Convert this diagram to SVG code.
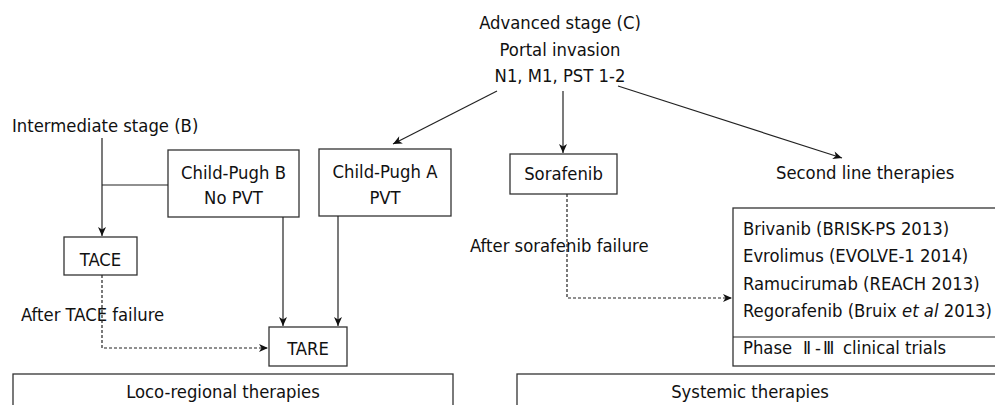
<svg xmlns="http://www.w3.org/2000/svg" width="995" height="405" viewBox="0 0 995 405">
<style>
text{font-family:"DejaVu Sans Condensed","DejaVu Sans","Noto Sans CJK SC",sans-serif;font-stretch:condensed;font-size:18.3px;fill:#111}
.c{text-anchor:middle}
.box{fill:#fff;stroke:#333;stroke-width:1.3}
.ln{fill:none;stroke:#222;stroke-width:1.2}
.dash{fill:none;stroke:#222;stroke-width:1.2;stroke-dasharray:3 2}
</style>
<defs>
<marker id="ah" viewBox="-10 -5 10 10" refX="0" refY="0" markerWidth="10" markerHeight="10" markerUnits="userSpaceOnUse" orient="auto">
<path d="M0,0 L-9,-4 L-6.5,0 L-9,4 Z" fill="#111"/>
</marker>
</defs>
<g id="advanced">
<text class="c" x="560" y="29">Advanced stage (C)</text>
<text class="c" x="560" y="56">Portal invasion</text>
<text class="c" x="560" y="82">N1, M1, PST 1-2</text>
</g>
<g id="intermediate">
<text x="12" y="132">Intermediate stage (B)</text>
</g>
<g id="childB">
<rect class="box" x="168" y="150" width="131" height="67"/>
<text class="c" x="233.5" y="179">Child-Pugh B</text>
<text class="c" x="233.5" y="204">No PVT</text>
</g>
<g id="childA">
<rect class="box" x="319" y="149" width="132" height="67"/>
<text class="c" x="385" y="178">Child-Pugh A</text>
<text class="c" x="385" y="204">PVT</text>
</g>
<g id="sorafenib">
<rect class="box" x="510" y="154" width="107" height="40"/>
<text class="c" x="563.5" y="180">Sorafenib</text>
</g>
<g id="secondline">
<text x="776" y="179">Second line therapies</text>
</g>
<g id="tace">
<rect class="box" x="64" y="237" width="73" height="38"/>
<text class="c" x="100.5" y="266">TACE</text>
</g>
<g id="tare">
<rect class="box" x="269" y="327" width="78" height="39"/>
<text class="c" x="308" y="355">TARE</text>
</g>
<g id="drugs">
<rect class="box" x="733" y="208" width="270" height="158"/>
<line class="ln" x1="733" y1="337" x2="1000" y2="337"/>
<text x="743" y="235">Brivanib (BRISK-PS 2013)</text>
<text x="743" y="262">Evrolimus (EVOLVE-1 2014)</text>
<text x="743" y="290">Ramucirumab (REACH 2013)</text>
<text x="743" y="317">Regorafenib (Bruix <tspan font-style="italic">et al</tspan> 2013)</text>
<text x="743" y="354">Phase <tspan x="803">Ⅱ</tspan><tspan x="815">-</tspan><tspan x="823">Ⅲ</tspan><tspan x="843">clinical trials</tspan></text>
</g>
<g id="loco">
<rect class="box" x="13" y="374" width="440" height="40"/>
<text class="c" x="223" y="398">Loco-regional therapies</text>
</g>
<g id="systemic">
<rect class="box" x="517" y="374" width="490" height="40"/>
<text class="c" x="750" y="398">Systemic therapies</text>
</g>
<g id="labels">
<text x="21" y="321">After TACE failure</text>
<text x="470" y="252">After sorafenib failure</text>
</g>
<g id="connectors">
<line class="ln" x1="497" y1="91" x2="393" y2="144" marker-end="url(#ah)"/>
<line class="ln" x1="563" y1="91" x2="563" y2="153" marker-end="url(#ah)"/>
<line class="ln" x1="618" y1="86" x2="842" y2="158" marker-end="url(#ah)"/>
<line class="ln" x1="102" y1="138" x2="102" y2="236" marker-end="url(#ah)"/>
<line class="ln" x1="102" y1="185" x2="168" y2="185"/>
<line class="ln" x1="283" y1="217" x2="283" y2="326" marker-end="url(#ah)"/>
<line class="ln" x1="338" y1="216" x2="338" y2="326" marker-end="url(#ah)"/>
<path class="dash" d="M102,275 V348 H268" marker-end="url(#ah)"/>
<path class="dash" d="M567,194 V298 H732" marker-end="url(#ah)"/>
</g>
</svg>
